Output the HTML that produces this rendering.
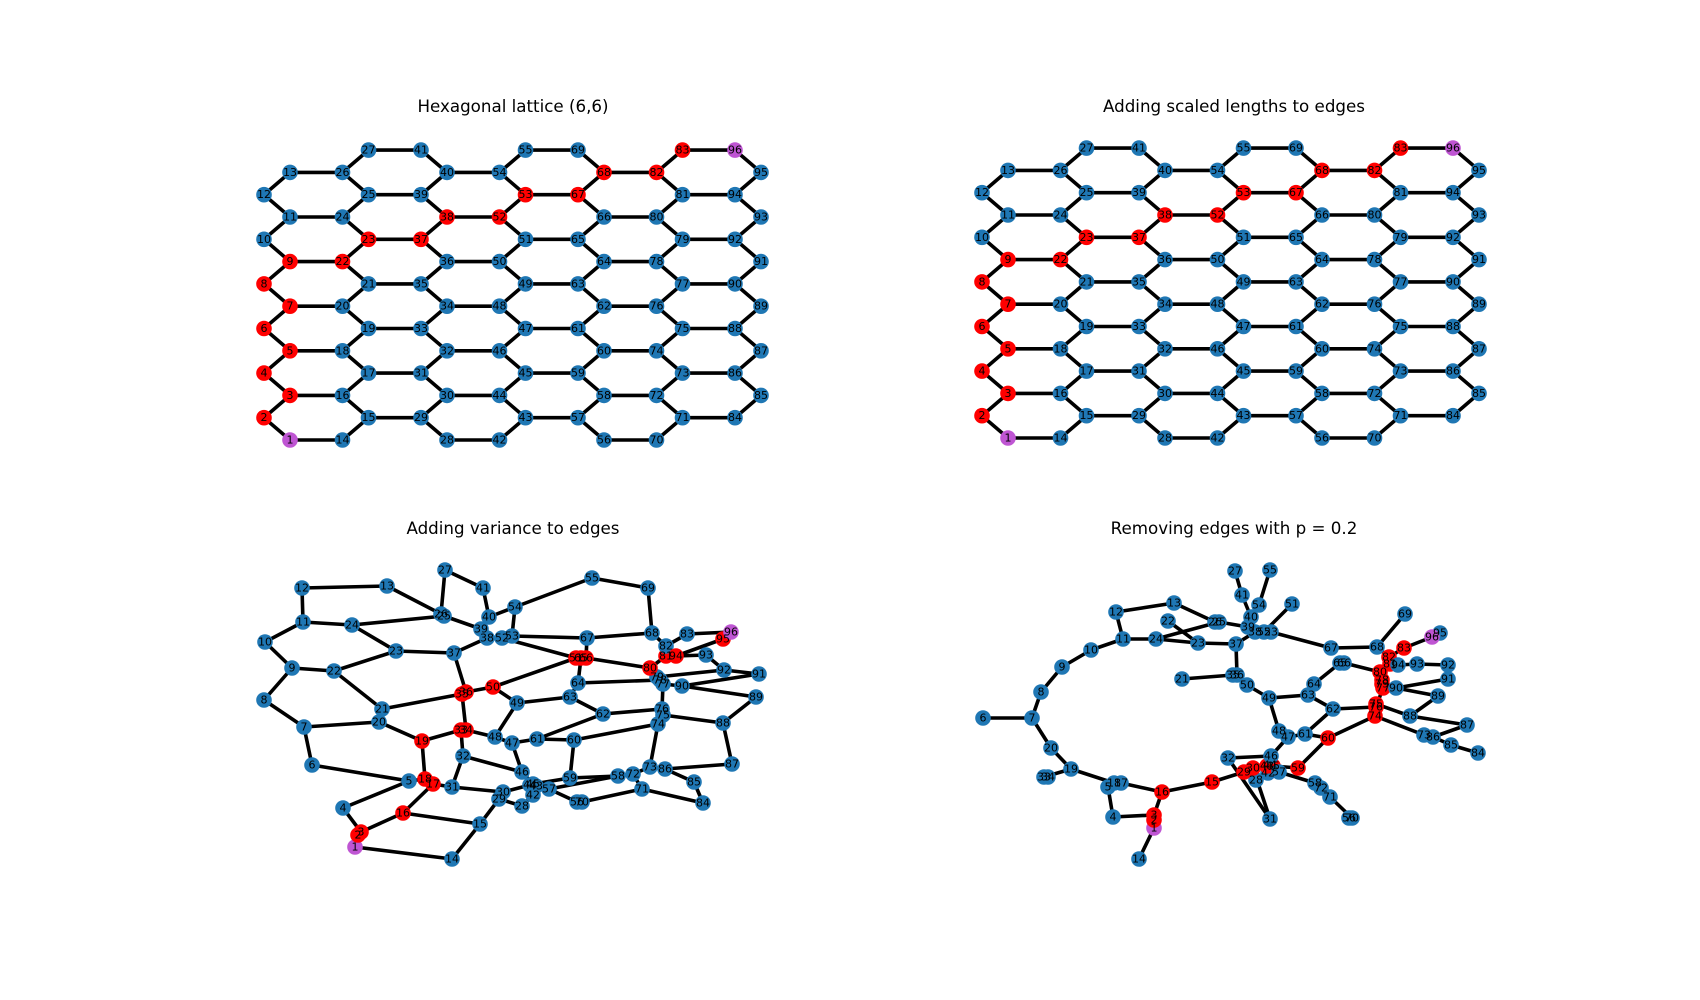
<!DOCTYPE html>
<html><head><meta charset="utf-8"><style>
html,body{margin:0;padding:0;background:#fff;}
svg{display:block}
text{font-family:"DejaVu Sans","Liberation Sans",sans-serif;}
.t text{font-size:11px;text-anchor:middle;dominant-baseline:central;fill:#000}
.title{font-size:16.7px;text-anchor:middle;fill:#000}
</style></head><body>
<svg id="s" width="1700" height="1000" viewBox="0 0 1700 1000" xmlns="http://www.w3.org/2000/svg">
<text class="title" x="513" y="112">Hexagonal lattice (6,6)</text>
<text class="title" x="1234" y="112">Adding scaled lengths to edges</text>
<text class="title" x="513" y="534">Adding variance to edges</text>
<text class="title" x="1234" y="534">Removing edges with p = 0.2</text>

<g id="p1" transform="translate(0,0)"><g class="e"></g><g class="n"></g><g class="t lat">
<text>1</text><text>2</text><text>3</text><text>4</text><text>5</text><text>6</text><text>7</text><text>8</text><text>9</text><text>10</text><text>11</text><text>12</text><text>13</text><text>14</text><text>15</text><text>16</text><text>17</text><text>18</text><text>19</text><text>20</text><text>21</text><text>22</text><text>23</text><text>24</text><text>25</text><text>26</text><text>27</text><text>28</text><text>29</text><text>30</text><text>31</text><text>32</text><text>33</text><text>34</text><text>35</text><text>36</text><text>37</text><text>38</text><text>39</text><text>40</text><text>41</text><text>42</text><text>43</text><text>44</text><text>45</text><text>46</text><text>47</text><text>48</text><text>49</text><text>50</text><text>51</text><text>52</text><text>53</text><text>54</text><text>55</text><text>56</text><text>57</text><text>58</text><text>59</text><text>60</text><text>61</text><text>62</text><text>63</text><text>64</text><text>65</text><text>66</text><text>67</text><text>68</text><text>69</text><text>70</text><text>71</text><text>72</text><text>73</text><text>74</text><text>75</text><text>76</text><text>77</text><text>78</text><text>79</text><text>80</text><text>81</text><text>82</text><text>83</text><text>84</text><text>85</text><text>86</text><text>87</text><text>88</text><text>89</text><text>90</text><text>91</text><text>92</text><text>93</text><text>94</text><text>95</text><text>96</text>
</g></g>

<g id="p2" transform="translate(718,-2)"><g class="e"></g><g class="n"></g><g class="t lat">
<text>1</text><text>2</text><text>3</text><text>4</text><text>5</text><text>6</text><text>7</text><text>8</text><text>9</text><text>10</text><text>11</text><text>12</text><text>13</text><text>14</text><text>15</text><text>16</text><text>17</text><text>18</text><text>19</text><text>20</text><text>21</text><text>22</text><text>23</text><text>24</text><text>25</text><text>26</text><text>27</text><text>28</text><text>29</text><text>30</text><text>31</text><text>32</text><text>33</text><text>34</text><text>35</text><text>36</text><text>37</text><text>38</text><text>39</text><text>40</text><text>41</text><text>42</text><text>43</text><text>44</text><text>45</text><text>46</text><text>47</text><text>48</text><text>49</text><text>50</text><text>51</text><text>52</text><text>53</text><text>54</text><text>55</text><text>56</text><text>57</text><text>58</text><text>59</text><text>60</text><text>61</text><text>62</text><text>63</text><text>64</text><text>65</text><text>66</text><text>67</text><text>68</text><text>69</text><text>70</text><text>71</text><text>72</text><text>73</text><text>74</text><text>75</text><text>76</text><text>77</text><text>78</text><text>79</text><text>80</text><text>81</text><text>82</text><text>83</text><text>84</text><text>85</text><text>86</text><text>87</text><text>88</text><text>89</text><text>90</text><text>91</text><text>92</text><text>93</text><text>94</text><text>95</text><text>96</text>
</g></g>

<g id="p3"><g class="e"></g><g class="n"></g><g class="t">
<text x="355" y="847">1</text><text x="358" y="835">2</text><text x="361" y="832">3</text><text x="343" y="808">4</text><text x="409" y="781">5</text><text x="312" y="765">6</text><text x="304" y="727">7</text><text x="264" y="700">8</text><text x="292" y="668">9</text><text x="265" y="642">10</text><text x="303" y="622">11</text><text x="302" y="588">12</text><text x="387" y="586">13</text><text x="452" y="859">14</text><text x="480" y="824">15</text><text x="403" y="813">16</text><text x="433" y="784">17</text><text x="425" y="779">18</text><text x="422" y="741">19</text><text x="379" y="722">20</text><text x="382" y="709">21</text><text x="334" y="671">22</text><text x="396" y="651">23</text><text x="352" y="625">24</text><text x="444" y="616">25</text><text x="441" y="614">26</text><text x="445" y="570">27</text><text x="522" y="806">28</text><text x="499" y="799">29</text><text x="503" y="792">30</text><text x="452" y="787">31</text><text x="463" y="756">32</text><text x="461" y="730">33</text><text x="466" y="730">34</text><text x="462" y="694">35</text><text x="466" y="692">36</text><text x="454" y="653">37</text><text x="487" y="638">38</text><text x="481" y="629">39</text><text x="489" y="617">40</text><text x="483" y="588">41</text><text x="533" y="795">42</text><text x="536" y="786">43</text><text x="530" y="785">44</text><text x="533" y="784">45</text><text x="522" y="772">46</text><text x="512" y="743">47</text><text x="495" y="737">48</text><text x="517" y="703">49</text><text x="493" y="687">50</text><text x="576" y="658">51</text><text x="502" y="638">52</text><text x="512" y="636">53</text><text x="515" y="607">54</text><text x="592" y="578">55</text><text x="577" y="802">56</text><text x="549" y="789">57</text><text x="618" y="776">58</text><text x="570" y="778">59</text><text x="574" y="740">60</text><text x="537" y="739">61</text><text x="603" y="714">62</text><text x="570" y="697">63</text><text x="578" y="683">64</text><text x="581" y="658">65</text><text x="586" y="658">66</text><text x="587" y="638">67</text><text x="652" y="633">68</text><text x="648" y="588">69</text><text x="582" y="802">70</text><text x="642" y="789">71</text><text x="633" y="774">72</text><text x="650" y="767">73</text><text x="658" y="724">74</text><text x="663" y="715">75</text><text x="662" y="709">76</text><text x="663" y="684">77</text><text x="660" y="680">78</text><text x="657" y="677">79</text><text x="650" y="668">80</text><text x="666" y="656">81</text><text x="666" y="646">82</text><text x="687" y="634">83</text><text x="703" y="803">84</text><text x="694" y="782">85</text><text x="665" y="769">86</text><text x="732" y="764">87</text><text x="723" y="723">88</text><text x="756" y="697">89</text><text x="682" y="686">90</text><text x="759" y="674">91</text><text x="724" y="670">92</text><text x="706" y="655">93</text><text x="676" y="656">94</text><text x="723" y="639">95</text><text x="731" y="632">96</text>
</g></g>

<g id="p4"><g class="e"></g><g class="n"></g><g class="t">
<text x="1154" y="828">1</text><text x="1154" y="820">2</text><text x="1154" y="815">3</text><text x="1113" y="817">4</text><text x="1108" y="787">5</text><text x="983" y="718">6</text><text x="1032" y="718">7</text><text x="1041" y="692">8</text><text x="1062" y="667">9</text><text x="1091" y="650">10</text><text x="1123" y="639">11</text><text x="1116" y="612">12</text><text x="1174" y="603">13</text><text x="1139" y="859">14</text><text x="1212" y="782">15</text><text x="1162" y="792">16</text><text x="1121" y="783">17</text><text x="1114" y="783">18</text><text x="1071" y="769">19</text><text x="1051" y="748">20</text><text x="1182" y="679">21</text><text x="1168" y="621">22</text><text x="1198" y="643">23</text><text x="1156" y="639">24</text><text x="1219" y="622">25</text><text x="1215" y="622">26</text><text x="1235" y="571">27</text><text x="1256" y="780">28</text><text x="1244" y="772">29</text><text x="1253" y="768">30</text><text x="1270" y="819">31</text><text x="1228" y="758">32</text><text x="1044" y="777">33</text><text x="1048" y="777">34</text><text x="1233" y="675">35</text><text x="1237" y="675">36</text><text x="1236" y="644">37</text><text x="1255" y="632">38</text><text x="1248" y="627">39</text><text x="1251" y="617">40</text><text x="1242" y="595">41</text><text x="1268" y="773">42</text><text x="1267" y="766">43</text><text x="1270" y="765">44</text><text x="1273" y="766">45</text><text x="1271" y="756">46</text><text x="1288" y="737">47</text><text x="1279" y="731">48</text><text x="1269" y="698">49</text><text x="1247" y="685">50</text><text x="1292" y="604">51</text><text x="1264" y="632">52</text><text x="1271" y="632">53</text><text x="1259" y="605">54</text><text x="1270" y="570">55</text><text x="1349" y="818">56</text><text x="1279" y="772">57</text><text x="1315" y="783">58</text><text x="1298" y="768">59</text><text x="1328" y="738">60</text><text x="1305" y="734">61</text><text x="1333" y="709">62</text><text x="1308" y="695">63</text><text x="1314" y="684">64</text><text x="1340" y="663">65</text><text x="1344" y="663">66</text><text x="1331" y="648">67</text><text x="1377" y="647">68</text><text x="1405" y="614">69</text><text x="1352" y="818">70</text><text x="1330" y="797">71</text><text x="1321" y="788">72</text><text x="1424" y="735">73</text><text x="1375" y="716">74</text><text x="1376" y="704">75</text><text x="1376" y="707">76</text><text x="1383" y="688">77</text><text x="1382" y="680">78</text><text x="1382" y="684">79</text><text x="1380" y="672">80</text><text x="1390" y="664">81</text><text x="1389" y="657">82</text><text x="1404" y="648">83</text><text x="1478" y="753">84</text><text x="1451" y="745">85</text><text x="1433" y="737">86</text><text x="1467" y="725">87</text><text x="1410" y="716">88</text><text x="1438" y="696">89</text><text x="1396" y="688">90</text><text x="1448" y="679">91</text><text x="1448" y="665">92</text><text x="1417" y="664">93</text><text x="1398" y="665">94</text><text x="1440" y="633">95</text><text x="1432" y="637">96</text>
</g></g>
</svg>
<script>
(function(){
var NS="http://www.w3.org/2000/svg";
var P=[264,290,342.5,368.5,421,447,499.5,525.5,578,604,656.5,682.5,735,761];
function id(i,j){ if(i==0) return j<=12?1+j:null; if(i==6) return (j>=1&&j<=13)?84+j-1:null; return j<=13?14+14*(i-1)+j:null;}
var pos={}, latE=[];
var xmap=[[1,0],[2,3],[5,4],[6,7],[9,8],[10,11],[13,12]];
for(var i=0;i<7;i++)for(var j=0;j<14;j++){var n=id(i,j);if(n==null)continue;
 pos[n]=[P[xmap[i][j%2]],440-22.3*j];
 var u=id(i,j+1); if(u!=null) latE.push([n,u]);
 if(i<6&&(i+j)%2==0){var r=id(i+1,j); if(r!=null) latE.push([n,r]);}
}
var e4="27-41,41-40,55-54,54-40,51-52,40-39,39-25,25-26,26-13,13-12,12-11,11-10,10-9,9-8,8-7,7-6,7-20,20-19,19-33,33-34,19-18,18-17,17-16,5-18,5-4,4-3,3-16,2-3,2-1,1-14,16-15,15-29,29-30,29-28,30-31,31-32,32-46,30-44,44-45,43-44,45-46,46-47,47-48,48-49,49-50,50-36,35-36,35-21,36-37,37-38,37-23,23-22,23-24,24-11,24-25,38-52,52-53,53-67,67-68,68-69,68-82,82-83,83-96,96-95,82-81,81-94,94-93,93-92,81-80,80-66,66-65,65-64,64-63,63-49,63-62,62-61,61-47,61-60,60-59,59-45,43-57,42-43,42-28,57-58,58-72,72-71,71-70,70-56,60-74,74-75,75-76,76-62,76-77,77-78,78-79,79-80,77-90,90-91,90-89,89-88,88-75,88-87,74-73,73-86,86-87,86-85,85-84".split(",").map(function(s){return s.split("-").map(Number);});
var redA=[2,3,4,5,6,7,8,9,22,23,37,38,52,53,67,68,82,83];
var redC=[2,3,16,17,18,19,33,34,35,36,50,51,65,66,80,81,94,95];
var redD=[2,3,16,15,29,30,43,44,45,59,60,74,75,76,77,78,79,80,81,82,83];
var cfg=[["p1",latE,redA,1],["p2",latE,redA,1],["p3",latE,redC,0],["p4",e4,redD,0]];
cfg.forEach(function(c){
 var g=document.getElementById(c[0]);
 var texts=g.querySelectorAll(".t text"); var P2={};
 for(var k=0;k<texts.length;k++){var t=texts[k];var n=+t.textContent;
  if(c[3]){t.setAttribute("x",pos[n][0]);t.setAttribute("y",pos[n][1]);}
  P2[n]=[+t.getAttribute("x"),+t.getAttribute("y")];}
 var eg=g.querySelector(".e"), ng=g.querySelector(".n");
 c[1].forEach(function(e){var a=P2[e[0]],b=P2[e[1]];if(!a||!b)return;
  var l=document.createElementNS(NS,"line");l.setAttribute("x1",a[0]);l.setAttribute("y1",a[1]);l.setAttribute("x2",b[0]);l.setAttribute("y2",b[1]);
  l.setAttribute("stroke","#000");l.setAttribute("stroke-width","3.6");eg.appendChild(l);});
 for(var n in P2){var cc=document.createElementNS(NS,"circle");cc.setAttribute("cx",P2[n][0]);cc.setAttribute("cy",P2[n][1]);cc.setAttribute("r","7.8");
  var num=+n;var col=(num==1||num==96)?"#bf55d3":(c[2].indexOf(num)>=0?"#ff0000":"#1f77b4");
  if(c[0]=="p4"&&num==95)col="#1f77b4";
  cc.setAttribute("fill",col);ng.appendChild(cc);}
});
})();
</script>
</body></html>
